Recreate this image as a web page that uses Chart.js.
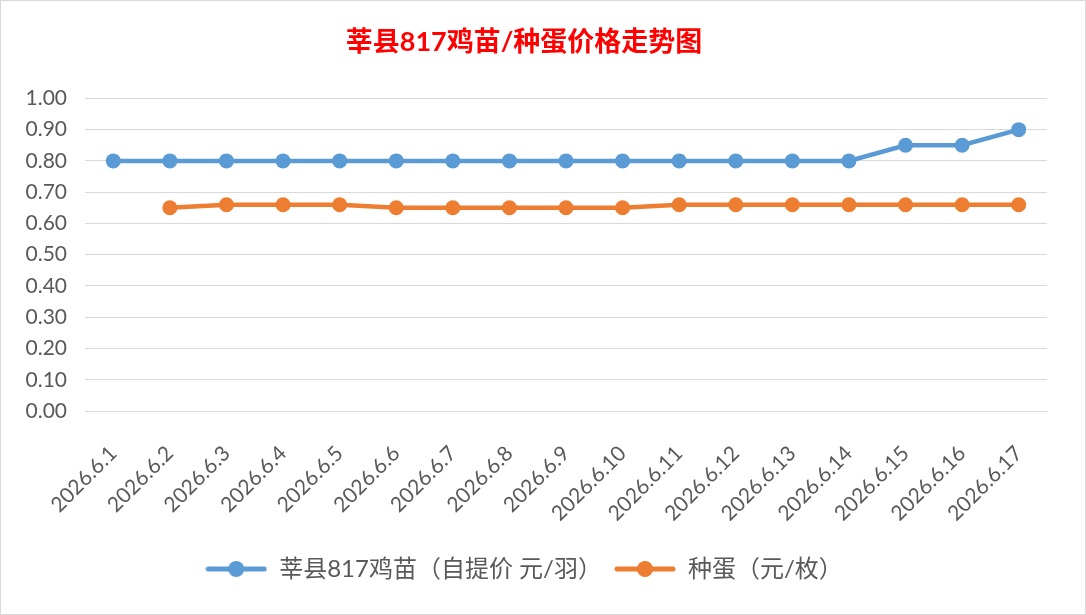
<!DOCTYPE html>
<html>
<head>
<meta charset="utf-8">
<script src="https://cdn.jsdelivr.net/npm/chart.js@4"></script>
<style>
  body { margin: 0; background: #fff; }
  #wrap { position: relative; width: 1084px; height: 613px; border: 1px solid #d9d9d9; }
</style>
</head>
<body>
<div id="wrap"><canvas id="myChart"></canvas></div>
<script>
const dates = ['2026.6.1', '2026.6.2', '2026.6.3', '2026.6.4', '2026.6.5', '2026.6.6', '2026.6.7', '2026.6.8', '2026.6.9',
  '2026.6.10', '2026.6.11', '2026.6.12', '2026.6.13', '2026.6.14', '2026.6.15', '2026.6.16', '2026.6.17'];
const chickPrice = [0.80, 0.80, 0.80, 0.80, 0.80, 0.80, 0.80, 0.80, 0.80, 0.80, 0.80, 0.80, 0.80, 0.80, 0.85, 0.85, 0.90];
const eggPrice = [null, 0.65, 0.66, 0.66, 0.66, 0.65, 0.65, 0.65, 0.65, 0.65, 0.66, 0.66, 0.66, 0.66, 0.66, 0.66, 0.66];
const seriesNames = ['莘县817鸡苗（自提价 元/羽）', '种蛋（元/枚）'];
const colors = ['#5B9BD5', '#ED7D31'];

const font = "Lato, 'Noto Sans CJK SC', sans-serif";

// legend marker: line with a dot in the middle, like the spreadsheet legend
function legendMark(color) {
    const c = document.createElement('canvas');
    c.width = 62; c.height = 18;
    const g = c.getContext('2d');
    g.strokeStyle = color;
    g.lineWidth = 5;
    g.lineCap = 'round';
    g.beginPath(); g.moveTo(3, 9); g.lineTo(59, 9); g.stroke();
    g.fillStyle = color;
    g.beginPath(); g.arc(31, 9, 8, 0, Math.PI * 2); g.fill();
    return c;
}

const ctx = document.getElementById('myChart');
new Chart(ctx, {
    type: 'line',
    data: {
        labels: dates,
        datasets: [chickPrice, eggPrice].map((d, i) => ({
            label: seriesNames[i],
            data: d,
            borderColor: colors[i],
            backgroundColor: colors[i],
            borderWidth: 4.5,
            pointRadius: 7.5,
            pointHoverRadius: 7.5,
            pointBorderWidth: 0,
            tension: 0,
            pointStyle: 'circle'
        }))
    },
    options: {
        responsive: true,
        maintainAspectRatio: false,
        animation: false,
        layout: { padding: { left: 0, right: 38, top: 0, bottom: 23 } },
        plugins: {
            title: {
                display: true,
                text: '莘县817鸡苗/种蛋价格走势图',
                color: '#FF0000',
                font: { family: font, size: 27, weight: 'bold' },
                padding: { top: 25, bottom: 40 }
            },
            legend: {
                position: 'bottom',
                labels: {
                    color: '#595959',
                    font: { family: font, size: 24 },
                    usePointStyle: true,
                    pointStyleWidth: 62,
                    padding: 12,
                    generateLabels: (chart) => chart.data.datasets.map((ds, i) => ({
                        text: ds.label,
                        pointStyle: legendMark(colors[i]),
                        fillStyle: colors[i],
                        strokeStyle: colors[i],
                        lineWidth: 0,
                        fontColor: '#595959',
                        datasetIndex: i
                    }))
                }
            },
            tooltip: { enabled: false }
        },
        scales: {
            x: {
                offset: true,
                grid: { display: false },
                border: { color: '#d9d9d9', width: 1 },
                ticks: {
                    color: '#595959',
                    font: { family: font, size: 21 },
                    minRotation: 45,
                    maxRotation: 45,
                    autoSkip: false,
                    padding: 22
                },
                afterFit: (s) => { s.height = 134; }
            },
            y: {
                min: 0,
                max: 1,
                ticks: {
                    stepSize: 0.1,
                    color: '#595959',
                    font: { family: font, size: 21 },
                    padding: 18,
                    callback: (v) => v.toFixed(2)
                },
                grid: { color: '#d9d9d9', lineWidth: 1, drawTicks: false },
                border: { display: false },
                afterFit: (s) => { s.width = 84; }
            }
        }
    }
});
</script>
</body>
</html>
